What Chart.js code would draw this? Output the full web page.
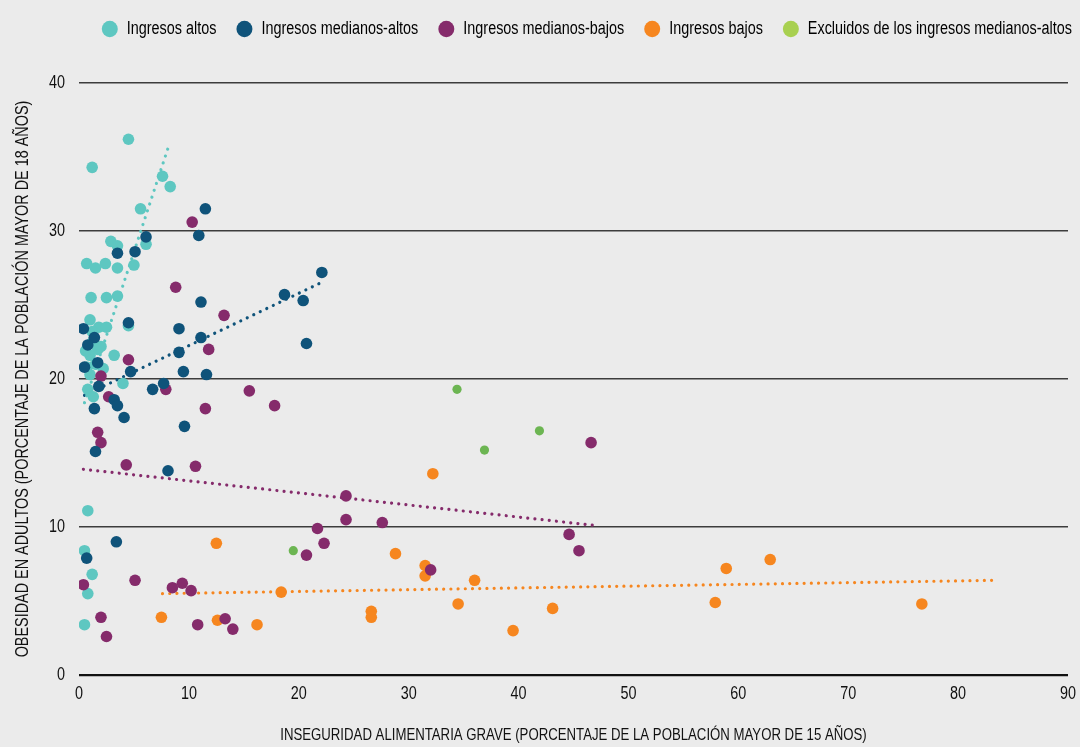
<!DOCTYPE html>
<html>
<head>
<meta charset="utf-8">
<script src="https://cdn.jsdelivr.net/npm/chart.js@4.4.1/dist/chart.umd.min.js"></script>
<style>
  html, body { margin: 0; padding: 0; background: #ebebeb; }
  #wrap { width: 1080px; height: 747px; }
</style>
</head>
<body>
<div id="wrap"><canvas id="myChart" width="1080" height="747"></canvas></div>
<script>
// datos
const groupNames = ['Ingresos altos', 'Ingresos medianos-altos', 'Ingresos medianos-bajos', 'Ingresos bajos', 'Excluidos de los ingresos medianos-altos'];

const altosX = [4.5, 1.2, 7.6, 8.3, 5.6, 6.1, 2.9, 3.5, 0.7, 1.5, 2.4, 3.5, 5.0, 1.1, 2.5, 3.5, 4.5, 1.0, 1.8, 2.5, 1.3, 1.7, 1.0, 2.2, 3.2, 1.0, 0.8, 1.3, 4.0, 0.7, 1.5, 2.0, 1.2, 0.6, 0.8, 0.5, 1.2, 0.8, 0.5];
const altosY = [36.2, 34.3, 33.7, 33.0, 31.5, 29.1, 29.3, 29.0, 27.8, 27.5, 27.8, 27.5, 27.7, 25.5, 25.5, 25.6, 23.6, 24.0, 23.5, 23.5, 22.6, 22.0, 21.6, 20.7, 21.6, 20.3, 19.3, 18.8, 19.7, 20.8, 21.0, 22.2, 23.2, 21.9, 11.1, 8.4, 6.8, 5.5, 3.4];

const medAltosX = [11.5, 10.9, 6.1, 5.1, 3.5, 11.1, 9.1, 11.1, 9.1, 9.5, 11.6, 7.7, 6.7, 9.6, 18.7, 20.4, 22.1, 20.7, 0.4, 1.4, 4.5, 0.8, 0.5, 1.7, 4.7, 1.8, 3.2, 3.5, 1.4, 4.1, 1.5, 8.1, 3.4, 0.7];
const medAltosY = [31.5, 29.7, 29.6, 28.6, 28.5, 25.2, 23.4, 22.8, 21.8, 20.5, 20.3, 19.7, 19.3, 16.8, 25.7, 25.3, 27.2, 22.4, 23.4, 22.8, 23.8, 22.3, 20.8, 21.1, 20.5, 19.5, 18.6, 18.2, 18.0, 17.4, 15.1, 13.8, 9.0, 7.9];

const medBajosX = [10.3, 8.8, 13.2, 11.8, 7.9, 15.5, 11.5, 17.8, 4.5, 2.0, 2.7, 1.7, 2.0, 4.3, 10.6, 24.3, 24.3, 27.6, 21.7, 22.3, 20.7, 9.4, 10.2, 10.8, 13.3, 14.0, 0.4, 5.1, 8.5, 2.0, 2.5, 46.6, 44.6, 45.5, 32.0];
const medBajosY = [30.6, 26.2, 24.3, 22.0, 19.3, 19.2, 18.0, 18.2, 21.3, 20.2, 18.8, 16.4, 15.7, 14.2, 14.1, 12.1, 10.5, 10.3, 9.9, 8.9, 8.1, 6.2, 5.7, 3.4, 3.8, 3.1, 6.1, 6.4, 5.9, 3.9, 2.6, 15.7, 9.5, 8.4, 7.1];

const bajosX = [32.2, 12.5, 28.8, 31.5, 31.5, 36.0, 18.4, 34.5, 26.6, 26.6, 12.6, 16.2, 7.5, 43.1, 39.5, 58.9, 62.9, 57.9, 76.7];
const bajosY = [13.6, 8.9, 8.2, 7.4, 6.7, 6.4, 5.6, 4.8, 4.3, 3.9, 3.7, 3.4, 3.9, 4.5, 3.0, 7.2, 7.8, 4.9, 4.8];

const excluidosX = [34.4, 41.9, 36.9, 19.5];
const excluidosY = [19.3, 16.5, 15.2, 8.4];

// lineas de tendencia (extremos)
const trendAltosX = [0.5, 8.1];
const trendAltosY = [18.4, 35.6];
const trendMedAltosX = [0.5, 22.0];
const trendMedAltosY = [18.9, 26.5];
const trendMedBajosX = [0.4, 47.0];
const trendMedBajosY = [13.9, 10.1];
const trendBajosX = [7.6, 83.4];
const trendBajosY = [5.5, 6.4];

const xTicks = [0, 10, 20, 30, 40, 50, 60, 70, 80, 90];
const yTicks = [0, 10, 20, 30, 40];

const colores = ['#5ec7c1', '#0f537a', '#852b6b', '#f6861f', '#6cb552'];
const coloresLeyenda = ['#5ec7c1', '#0f537a', '#852b6b', '#f6861f', '#a8d050'];

const FONT = "'Liberation Sans', Arial, sans-serif";

// no hay fuente condensada instalada: se estrecha el texto del canvas a mano
const SX = 0.8;
const proto = CanvasRenderingContext2D.prototype;
const fillOrig = proto.fillText;
const measureOrig = proto.measureText;
proto.measureText = function (t) {
    const m = measureOrig.call(this, t);
    return {
        width: m.width * SX,
        actualBoundingBoxAscent: m.actualBoundingBoxAscent,
        actualBoundingBoxDescent: m.actualBoundingBoxDescent,
        actualBoundingBoxLeft: m.actualBoundingBoxLeft * SX,
        actualBoundingBoxRight: m.actualBoundingBoxRight * SX
    };
};
proto.fillText = function (t, x, y, mw) {
    this.save();
    this.translate(x, y);
    this.scale(SX, 1);
    if (mw !== undefined) fillOrig.call(this, t, 0, 0, mw / SX);
    else fillOrig.call(this, t, 0, 0);
    this.restore();
};

const pts = (xs, ys) => xs.map((x, i) => ({ x: x, y: ys[i] }));

const puntos = (i, xs, ys, r, ord) => ({
    type: 'scatter',
    label: groupNames[i],
    data: pts(xs, ys),
    backgroundColor: colores[i],
    borderColor: colores[i],
    borderWidth: 0,
    pointRadius: r,
    pointHoverRadius: r,
    order: ord
});

const tendencia = (i, xs, ys) => ({
    type: 'line',
    label: 'tendencia ' + groupNames[i],
    data: pts(xs, ys),
    borderColor: colores[i],
    borderWidth: 3.2,
    borderDash: [0.01, 7.2],
    borderCapStyle: 'round',
    pointRadius: 0,
    fill: false,
    order: 10
});

const fondo = {
    id: 'fondo',
    beforeDraw(chart) {
        const c = chart.ctx;
        c.save();
        c.fillStyle = '#ebebeb';
        c.fillRect(0, 0, chart.width, chart.height);
        c.restore();
    }
};

// mas espacio bajo la leyenda y leyenda un poco mas a la derecha
const ajusteLeyenda = {
    id: 'ajusteLeyenda',
    beforeLayout(chart) {
        const lg = chart.legend;
        if (!lg || lg._ajustada) return;
        const fit = lg.fit;
        lg.fit = function () {
            fit.call(this);
            this.height += 35;
        };
        lg._ajustada = true;
    },
    afterLayout(chart) {
        chart.legend.right += 24;
        chart.legend.width += 24;
    }
};

const ctx = document.getElementById('myChart');
var myChart = new Chart(ctx, {
    data: {
        datasets: [
            puntos(0, altosX, altosY, 5.8, 5),
            puntos(1, medAltosX, medAltosY, 5.8, 1),
            puntos(2, medBajosX, medBajosY, 5.8, 2),
            puntos(3, bajosX, bajosY, 5.8, 3),
            puntos(4, excluidosX, excluidosY, 4.6, 4),
            tendencia(0, trendAltosX, trendAltosY),
            tendencia(1, trendMedAltosX, trendMedAltosY),
            tendencia(2, trendMedBajosX, trendMedBajosY),
            tendencia(3, trendBajosX, trendBajosY)
        ]
    },
    options: {
        responsive: false,
        animation: false,
        layout: { padding: { top: 0, right: 12, left: 0, bottom: 0 } },
        plugins: {
            tooltip: { enabled: false },
            legend: {
                position: 'top',
                align: 'end',
                labels: {
                    font: { family: FONT, size: 18 },
                    color: '#111',
                    usePointStyle: true,
                    pointStyle: 'circle',
                    pointStyleWidth: 16,
                    boxHeight: 11.5,
                    padding: 20,
                    generateLabels: () => groupNames.map((n, i) => ({
                        text: n,
                        fillStyle: coloresLeyenda[i],
                        strokeStyle: coloresLeyenda[i],
                        lineWidth: 0,
                        pointStyle: 'circle',
                        hidden: false,
                        datasetIndex: i
                    }))
                }
            }
        },
        scales: {
            x: {
                type: 'linear',
                min: 0,
                max: 90,
                afterBuildTicks: s => { s.ticks = xTicks.map(v => ({ value: v })); },
                afterFit: s => { s.height = 72; s.paddingRight = 0; },
                grid: { display: false, drawTicks: false },
                border: { display: false },
                ticks: { padding: 8, color: '#111', font: { family: FONT, size: 18 } },
                title: {
                    display: true,
                    text: 'INSEGURIDAD ALIMENTARIA GRAVE (PORCENTAJE DE LA POBLACIÓN MAYOR DE 15 AÑOS)',
                    color: '#111',
                    font: { family: FONT, size: 16.5 },
                    padding: { top: 0, bottom: 2 }
                }
            },
            y: {
                type: 'linear',
                min: 0,
                max: 40,
                afterBuildTicks: s => { s.ticks = yTicks.map(v => ({ value: v })); },
                afterFit: s => { s.width = 79; },
                grid: {
                    drawTicks: false,
                    color: c => c.tick && c.tick.value === 0 ? '#111' : '#3c3c3c',
                    lineWidth: c => c.tick && c.tick.value === 0 ? 2.2 : 1.6
                },
                border: { display: false },
                ticks: { padding: 14, color: '#111', font: { family: FONT, size: 18 } },
                title: {
                    display: true,
                    text: 'OBESIDAD EN ADULTOS (PORCENTAJE DE LA POBLACIÓN MAYOR DE 18 AÑOS)',
                    color: '#111',
                    font: { family: FONT, size: 18 },
                    padding: { top: 12, bottom: 0 }
                }
            }
        }
    },
    plugins: [fondo, ajusteLeyenda]
});
</script>
</body>
</html>
